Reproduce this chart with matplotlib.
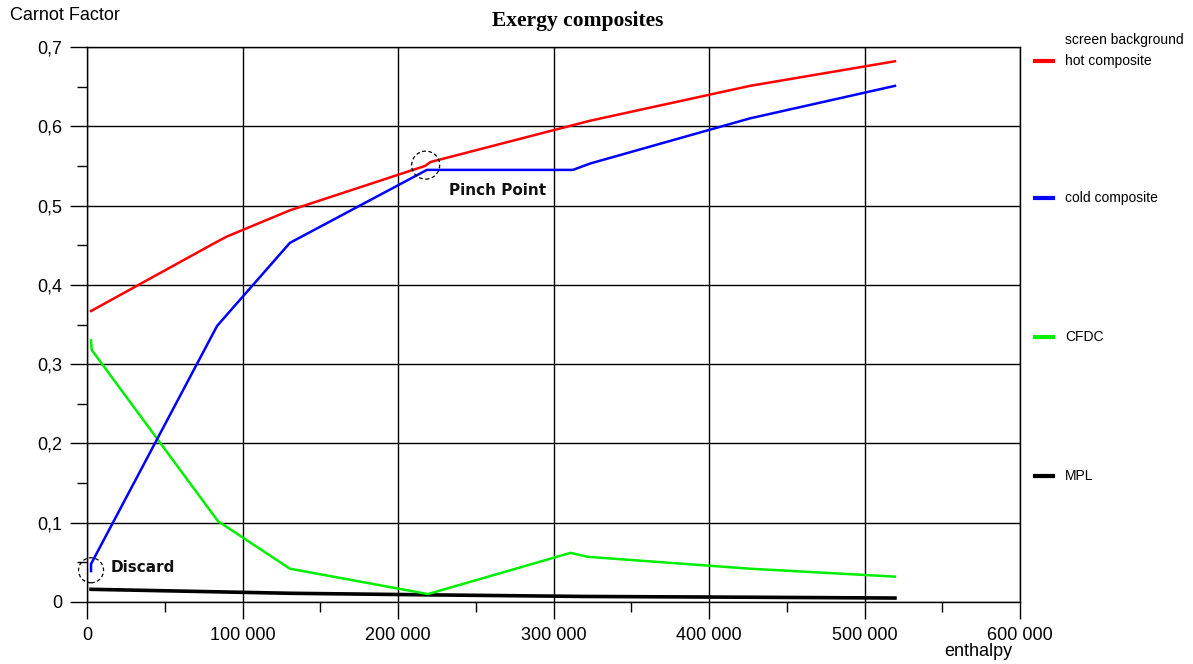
import matplotlib.pyplot as plt
from matplotlib.patches import Ellipse

plt.rcParams['font.family'] = ['Liberation Sans', 'DejaVu Sans']

# Data (enthalpy, Carnot factor)
hot_x = [2600, 82300, 90000, 130500, 217400, 221000, 323500, 426400, 519600]
hot_y = [0.367, 0.453, 0.461, 0.494, 0.550, 0.555, 0.607, 0.651, 0.682]

cold_x = [2600, 2600, 83600, 90700, 130500, 218600, 312500, 323500, 426400, 519600]
cold_y = [0.039, 0.048, 0.348, 0.364, 0.453, 0.545, 0.545, 0.553, 0.610, 0.651]

cfdc_x = [2600, 3000, 84200, 130500, 219300, 311000, 322000, 426400, 519600]
cfdc_y = [0.330, 0.318, 0.102, 0.042, 0.010, 0.062, 0.057, 0.042, 0.032]

mpl_x = [2600, 130500, 220000, 320000, 426400, 519600]
mpl_y = [0.016, 0.011, 0.009, 0.007, 0.006, 0.005]

xticks = [0, 100000, 200000, 300000, 400000, 500000, 600000]
xticklabels = ['0', '100 000', '200 000', '300 000', '400 000', '500 000', '600 000']
yticks = [0, 0.1, 0.2, 0.3, 0.4, 0.5, 0.6, 0.7]
yticklabels = ['0', '0,1', '0,2', '0,3', '0,4', '0,5', '0,6', '0,7']

legend_names = ['hot composite', 'cold composite', 'CFDC', 'MPL']
legend_colors = ['#ff0000', '#0000ff', '#00ee00', '#000000']
legend_ypix = [61, 198, 337, 476]

W, H = 1193, 664
fig = plt.figure(figsize=(W / 100, H / 100), dpi=100)
ax = fig.add_axes([87 / W, 1 - 602 / H, (1020 - 87) / W, (602 - 47) / H])

ax.plot(mpl_x, mpl_y, color='black', lw=2.6, zorder=3)
ax.plot(cfdc_x, cfdc_y, color='#00ee00', lw=1.8, zorder=3)
ax.plot(cold_x, cold_y, color='#0000ff', lw=1.8, zorder=3)
ax.plot(hot_x, hot_y, color='#ff0000', lw=1.8, zorder=3)

ax.set_xlim(0, 600000)
ax.set_ylim(0, 0.7)
ax.set_xticks(xticks)
ax.set_xticklabels(xticklabels, fontsize=13)
ax.set_yticks(yticks)
ax.set_yticklabels(yticklabels, fontsize=13)
ax.set_xticks([50000, 150000, 250000, 350000, 450000, 550000], minor=True)
ax.set_yticks([0.05, 0.15, 0.25, 0.35, 0.45, 0.55, 0.65], minor=True)
ax.tick_params(which='major', length=12, width=1, direction='out', pad=6)
ax.tick_params(which='minor', length=7, width=1, direction='out')
ax.grid(True, color='black', lw=1)
for s in ax.spines.values():
    s.set_color('black')
    s.set_linewidth(1)

# annotations (circles sized in pixels: 600000/933 per px in x, 0.7/555 per px in y)
px_x = 600000 / 933
px_y = 0.7 / 555
ax.add_patch(Ellipse((2600, 0.040), 25 * px_x, 25 * px_y, fill=False, ls=(0, (3, 2)),
                     lw=0.9, zorder=4, clip_on=False))
ax.add_patch(Ellipse((217800, 0.551), 28 * px_x, 28 * px_y, fill=False, ls=(0, (3, 2)),
                     lw=0.9, zorder=4))
ax.text(15000, 0.043, 'Discard', fontsize=11, fontweight='bold', family='DejaVu Sans',
        va='center', ha='left', color='#111111')
ax.text(232500, 0.519, 'Pinch Point', fontsize=11, fontweight='bold', family='DejaVu Sans',
        va='center', ha='left', color='#111111')

fig.text(578 / W, 1 - 21 / H, 'Exergy composites', family='Liberation Serif',
         fontweight='bold', fontsize=15.5, ha='center', va='center')
fig.text(10 / W, 1 - 16 / H, 'Carnot Factor', fontsize=13, ha='left', va='center')
fig.text(978 / W, 1 - 652 / H, 'enthalpy', fontsize=13, ha='center', va='center')

# right-hand legend
fig.text(1065 / W, 1 - 40 / H, 'screen background', fontsize=10, ha='left', va='center')
for name, col, yp in zip(legend_names, legend_colors, legend_ypix):
    fig.add_artist(plt.Line2D([1035 / W, 1053 / W], [1 - yp / H, 1 - yp / H],
                              color=col, lw=3, transform=fig.transFigure))
    fig.text(1065 / W, 1 - yp / H, name, fontsize=10, ha='left', va='center')

fig.savefig('out.png', dpi=100)
